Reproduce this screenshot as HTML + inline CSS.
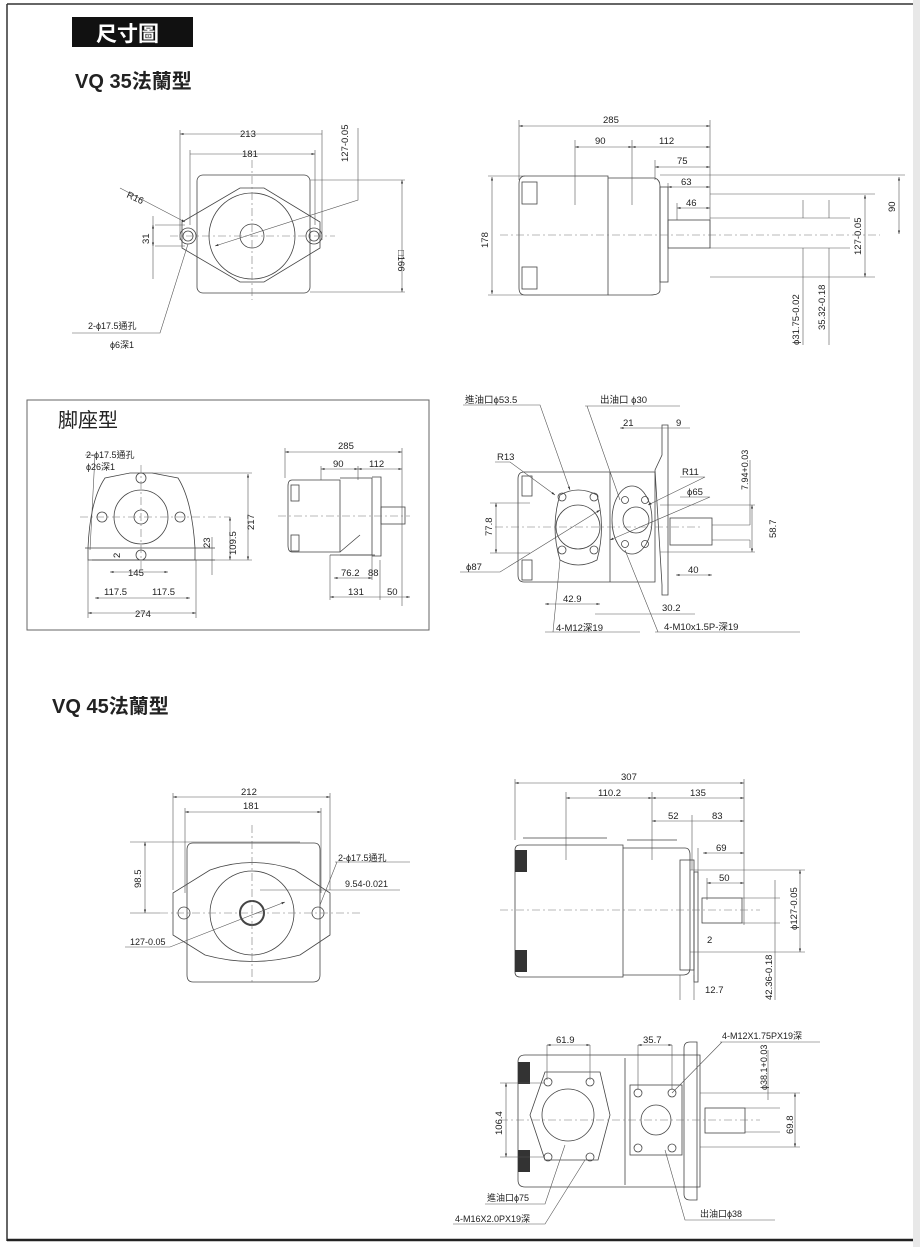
<!DOCTYPE html>
<html><head><meta charset="utf-8">
<style>
html,body{margin:0;padding:0;background:#fff;}
svg{display:block;}
text{font-family:"Liberation Sans","Noto Sans CJK TC",sans-serif;fill:#222;font-size:9.5px;}
.t{font-size:9px}
.l{stroke:#444;stroke-width:0.8;fill:none}
.d{stroke:#555;stroke-width:0.6;fill:none}
.c{stroke:#777;stroke-width:0.6;fill:none;stroke-dasharray:8 3 2 3}
</style></head>
<body>
<svg width="920" height="1247" viewBox="0 0 920 1247" xmlns="http://www.w3.org/2000/svg">
<defs>
<marker id="a" viewBox="0 0 10 10" refX="10" refY="5" markerWidth="6" markerHeight="6" orient="auto-start-reverse"><path d="M0,2 L10,5 L0,8z" fill="#333"/></marker>
</defs>
<rect x="913" y="0" width="7" height="1247" fill="#e8e8e8"/>
<path d="M7,4 H913 M7,4 V1241" stroke="#333" stroke-width="1.5" fill="none"/>
<path d="M7,1240 H913" stroke="#222" stroke-width="2.5"/>
<rect x="72" y="17" width="121" height="30" fill="#111"/>
<text x="96" y="41" style="font-size:21px;font-weight:bold;fill:#fff">尺寸圖</text>
<text x="75" y="88" style="font-size:20px;font-weight:bold">VQ 35法蘭型</text>

<!-- VQ35 front -->
<g>
<rect x="197" y="175" width="113" height="118" rx="6" class="l"/>
<path d="M182,222 L240,188 L264,188 L320,222 L320,248 L264,282 L240,282 L182,248Z" class="l"/>
<circle cx="252" cy="236" r="43" class="l"/>
<circle cx="252" cy="236" r="12" class="l"/>
<circle cx="188" cy="236" r="8" class="l"/><circle cx="188" cy="236" r="5" class="l"/>
<circle cx="314" cy="236" r="8" class="l"/><circle cx="314" cy="236" r="5" class="l"/>
<path d="M170,236 H335 M252,160 V300" class="c"/>
<path d="M180,134 H322 M190,154 H315" class="d" marker-start="url(#a)" marker-end="url(#a)"/>
<path d="M180,130 V240 M322,130 V240 M190,150 V225 M315,150 V225" class="d"/>
<text x="240" y="137">213</text><text x="242" y="157">181</text>
<path d="M310,180 H405 M310,292 H405" class="d"/>
<path d="M402,180 V292" class="d" marker-start="url(#a)" marker-end="url(#a)"/>
<text x="0" y="0" transform="translate(398,250) rotate(90)">□166</text>
<path d="M358,128 V200 L215,246" class="d" marker-end="url(#a)"/>
<text transform="translate(348,162) rotate(-90)">127-0.05</text>
<path d="M120,188 L185,222" class="d" marker-end="url(#a)"/>
<text x="126" y="197" transform="rotate(25 126 197)">R16</text>
<path d="M153,216 V279 M155,225 H185 M155,246 H185" class="d"/>
<path d="M153,225 V246" class="d" marker-start="url(#a)" marker-end="url(#a)"/>
<text transform="translate(149,244) rotate(-90)">31</text>
<path d="M72,333 H160 L188,244" class="d"/>
<text x="88" y="329" class="t">2-ϕ17.5通孔</text>
<text x="110" y="348" class="t">ϕ6深1</text>
</g>

<!-- VQ35 side -->
<g>
<path d="M525,176 H608 V295 H525 Q519,295 519,288 V184 Q519,176 525,176Z" class="l"/>
<path d="M608,178 H655 Q660,180 660,186 V290 Q660,295 650,295 H608" class="l"/>
<rect x="660" y="187" width="8" height="95" class="l"/>
<rect x="668" y="220" width="42" height="28" class="l"/>
<rect x="522" y="182" width="15" height="22" class="l"/><rect x="522" y="267" width="15" height="22" class="l"/>
<path d="M500,235 H880" class="c"/>
<path d="M519,120 V180 M710,120 V248 M575,140 V205 M632,140 V205 M655,160 V180 M668,183 V220 M677,203 V220" class="d"/>
<path d="M519,126 H710" class="d" marker-start="url(#a)" marker-end="url(#a)"/><text x="603" y="123">285</text>
<path d="M575,147 H632" class="d" marker-start="url(#a)" marker-end="url(#a)"/><text x="595" y="144">90</text>
<path d="M632,147 H710" class="d" marker-start="url(#a)" marker-end="url(#a)"/><text x="659" y="144">112</text>
<path d="M655,167 H710" class="d" marker-start="url(#a)" marker-end="url(#a)"/><text x="677" y="164">75</text>
<path d="M668,187 H710" class="d" marker-start="url(#a)" marker-end="url(#a)"/><text x="681" y="185">63</text>
<path d="M677,208 H710" class="d" marker-start="url(#a)" marker-end="url(#a)"/><text x="686" y="206">46</text>
<path d="M488,176 H525 M488,295 H540" class="d"/>
<path d="M492,177 V294" class="d" marker-start="url(#a)" marker-end="url(#a)"/>
<text transform="translate(488,248) rotate(-90)">178</text>
<path d="M660,175 H905 M710,194 H875 M710,277 H875 M710,218 H850 M710,248 H850" class="d"/>
<path d="M899,177 V234" class="d" marker-start="url(#a)" marker-end="url(#a)"/>
<text transform="translate(895,212) rotate(-90)">90</text>
<path d="M865,195 V277" class="d" marker-start="url(#a)" marker-end="url(#a)"/>
<text transform="translate(861,255) rotate(-90)">127-0.05</text>
<path d="M803,200 V218 M803,248 V345 M829,200 V218 M829,248 V345" class="d"/>
<text transform="translate(799,345) rotate(-90)">ϕ31.75-0.02</text>
<text transform="translate(825,330) rotate(-90)">35.32-0.18</text>
</g>

<!-- foot section -->
<rect x="27" y="400" width="402" height="230" class="d" style="stroke:#666;stroke-width:1"/>
<text x="58" y="427" style="font-size:20px">脚座型</text>
<g>
<path d="M88,560 V548 Q90,500 105,478 L130,473 L152,473 L178,478 Q192,500 195,548 V560 Z" class="l"/>
<circle cx="141" cy="517" r="27" class="l"/><circle cx="141" cy="517" r="7" class="l"/>
<circle cx="141" cy="478" r="5" class="l"/><circle cx="102" cy="517" r="5" class="l"/><circle cx="180" cy="517" r="5" class="l"/><circle cx="141" cy="555" r="5" class="l"/>
<path d="M85,548 H215 M92,560 H215" class="l"/>
<path d="M80,517 H230 M141,465 V570" class="c"/>
<path d="M85,455 H95 L90,550" class="d"/>
<text x="86" y="458" class="t">2-ϕ17.5通孔</text><text x="86" y="470" class="t">ϕ26深1</text>
<path d="M152,473 H252 M195,560 H252" class="d"/>
<path d="M248,474 V560" class="d" marker-start="url(#a)" marker-end="url(#a)"/><text transform="translate(254,530) rotate(-90)">217</text>
<path d="M230,517 V560" class="d" marker-start="url(#a)" marker-end="url(#a)"/><text transform="translate(236,555) rotate(-90)">109.5</text>
<path d="M212,537 V575" class="d"/><text transform="translate(210,548) rotate(-90)">23</text>
<text transform="translate(120,558) rotate(-90)">2</text>
<path d="M110,572 H168" class="d" marker-start="url(#a)" marker-end="url(#a)"/><text x="128" y="576">145</text>
<path d="M95,598 H141 M141,598 H190" class="d" marker-start="url(#a)" marker-end="url(#a)"/>
<text x="104" y="595">117.5</text><text x="152" y="595">117.5</text>
<path d="M88,613 H196" class="d" marker-start="url(#a)" marker-end="url(#a)"/><text x="135" y="617">274</text>
<path d="M88,560 V618 M196,560 V618" class="d"/>
</g>
<g>
<path d="M292,480 H340 V552 H292 Q288,552 288,545 V486 Q288,480 292,480Z" class="l"/>
<path d="M340,478 H372 V555 H340" class="l"/>
<path d="M372,477 H381 V556 H372" class="l"/>
<rect x="381" y="507" width="24" height="17" class="l"/>
<rect x="291" y="485" width="8" height="16" class="l"/><rect x="291" y="535" width="8" height="16" class="l"/>
<path d="M340,552 L360,535 M330,555 H375" class="l"/>
<path d="M278,516 H410" class="c"/>
<path d="M285,448 V478 M402,448 V606 M321,466 V480 M358,466 V480 M330,555 V600 M372,555 V580 M380,560 V600" class="d"/>
<path d="M285,452 H402" class="d" marker-start="url(#a)" marker-end="url(#a)"/><text x="338" y="449">285</text>
<path d="M321,469 H358" class="d" marker-start="url(#a)" marker-end="url(#a)"/><text x="333" y="467">90</text>
<path d="M358,469 H402" class="d" marker-start="url(#a)" marker-end="url(#a)"/><text x="369" y="467">112</text>
<path d="M334,578 H372" class="d" marker-start="url(#a)" marker-end="url(#a)"/><text x="341" y="576">76.2</text><text x="368" y="576">88</text>
<path d="M330,597 H380 M380,597 H410" class="d" marker-start="url(#a)" marker-end="url(#a)"/><text x="348" y="595">131</text><text x="387" y="595">50</text>
</g>

<!-- ports view VQ35 -->
<g>
<path d="M524,472 H655 V582 H524 Q518,582 518,575 V479 Q518,472 524,472Z" class="l"/>
<path d="M610,472 V582" class="l"/>
<path d="M655,470 L662,455 V425 H668 V595 H662 V585 Z" class="l"/>
<path d="M560,495 Q578,485 597,495 Q606,527 597,560 Q578,570 560,560 Q550,527 560,495Z" class="l"/>
<circle cx="578" cy="527" r="22" class="l"/>
<circle cx="562" cy="497" r="4" class="l"/><circle cx="594" cy="497" r="4" class="l"/><circle cx="562" cy="550" r="4" class="l"/><circle cx="594" cy="550" r="4" class="l"/>
<ellipse cx="632" cy="520" rx="20" ry="34" class="l"/>
<circle cx="636" cy="520" r="13" class="l"/>
<circle cx="625" cy="500" r="3.5" class="l"/><circle cx="645" cy="500" r="3.5" class="l"/><circle cx="625" cy="544" r="3.5" class="l"/><circle cx="645" cy="544" r="3.5" class="l"/>
<rect x="670" y="518" width="42" height="27" class="l"/>
<rect x="522" y="476" width="10" height="20" class="l"/><rect x="522" y="560" width="10" height="20" class="l"/>
<path d="M495,527 H700" class="c"/>
<path d="M463,405 H540 L570,490" class="d" marker-end="url(#a)"/><text x="465" y="403">進油口ϕ53.5</text>
<path d="M585,406 H680 M587,406 L620,500" class="d"/><text x="600" y="403">出油口 ϕ30</text>
<path d="M620,428 H660 M660,428 H690" class="d" marker-start="url(#a)"/><text x="623" y="426">21</text><text x="676" y="426">9</text>
<path d="M495,462 H510 L555,495" class="d" marker-end="url(#a)"/><text x="497" y="460">R13</text>
<path d="M680,477 H705 L648,505" class="d" marker-end="url(#a)"/><text x="682" y="475">R11</text>
<path d="M680,497 H710 L610,540" class="d" marker-end="url(#a)"/><text x="687" y="495">ϕ65</text>
<path d="M460,572 H500 L600,510" class="d" marker-end="url(#a)"/><text x="466" y="570">ϕ87</text>
<path d="M490,503 H530 M490,553 H530" class="d"/>
<path d="M496,503 V553" class="d" marker-start="url(#a)" marker-end="url(#a)"/><text transform="translate(492,536) rotate(-90)">77.8</text>
<path d="M660,505 H755 M712,525 H750 M712,540 H750 M660,552 H755" class="d"/>
<path d="M752,505 V552" class="d" marker-start="url(#a)" marker-end="url(#a)"/><text transform="translate(776,538) rotate(-90)">58.7</text>
<path d="M750,460 V525 M750,540 V548" class="d"/><text transform="translate(748,490) rotate(-90)" class="t">7.94+0.03</text>
<path d="M676,575 H712" class="d" marker-start="url(#a)" marker-end="url(#a)"/><text x="688" y="573">40</text>
<path d="M545,604 H600" class="d" marker-start="url(#a)" marker-end="url(#a)"/><text x="563" y="602">42.9</text>
<path d="M595,614 H695" class="d"/><text x="662" y="611">30.2</text>
<path d="M545,632 H640 M553,632 L560,560" class="d"/><text x="556" y="631">4-M12深19</text>
<path d="M655,632 H800 M658,632 L625,550" class="d"/><text x="664" y="630">4-M10x1.5P-深19</text>
</g>

<text x="52" y="713" style="font-size:20px;font-weight:bold">VQ 45法蘭型</text>
<!-- VQ45 front -->
<g>
<path d="M193,843 H314 Q320,843 320,850 V975 Q320,982 313,982 H193 Q187,982 187,975 V850 Q187,843 193,843Z" class="l"/>
<path d="M173,893 L210,870 Q252,855 295,870 L330,893 V935 L300,955 Q252,968 205,955 L173,935Z" class="l"/>
<circle cx="252" cy="913" r="42" class="l"/>
<circle cx="252" cy="913" r="12" class="l" style="stroke-width:2"/>
<circle cx="184" cy="913" r="6" class="l"/><circle cx="318" cy="913" r="6" class="l"/>
<path d="M160,913 H360 M252,825 V985" class="c"/>
<path d="M173,793 V890 M330,793 V890 M185,808 V893 M321,808 V893" class="d"/>
<path d="M173,797 H330" class="d" marker-start="url(#a)" marker-end="url(#a)"/><text x="241" y="795">212</text>
<path d="M185,812 H321" class="d" marker-start="url(#a)" marker-end="url(#a)"/><text x="243" y="809">181</text>
<path d="M130,842 H300 M130,913 H160" class="d"/>
<path d="M145,842 V913" class="d" marker-start="url(#a)" marker-end="url(#a)"/><text transform="translate(141,888) rotate(-90)">98.5</text>
<path d="M335,862 H410 M337,862 L320,905" class="d"/><text x="338" y="861" class="t">2-ϕ17.5通孔</text>
<path d="M260,890 H400" class="d"/><text x="345" y="887" class="t">9.54-0.021</text>
<path d="M125,947 H170 L285,902" class="d" marker-end="url(#a)"/><text x="130" y="945" class="t">127-0.05</text>
</g>

<!-- VQ45 side -->
<g>
<path d="M520,845 H623 V977 H520 Q515,977 515,972 V850 Q515,845 520,845Z" class="l"/>
<path d="M623,848 H685 Q690,848 690,855 V968 Q690,975 683,975 H623" class="l"/>
<path d="M523,838 H607 M627,840 H677" class="l"/>
<rect x="680" y="860" width="14" height="110" class="l"/>
<rect x="694" y="872" width="4" height="110" class="l"/>
<rect x="702" y="898" width="40" height="25" class="l"/>
<rect x="515" y="850" width="12" height="22" fill="#333"/><rect x="515" y="950" width="12" height="22" fill="#333"/>
<path d="M500,910 H760" class="c"/>
<path d="M515,779 V840 M744,779 V925 M566,792 V860 M652,792 V860 M692,815 V870 M698,848 V880 M707,878 V900" class="d"/>
<path d="M515,783 H744" class="d" marker-start="url(#a)" marker-end="url(#a)"/><text x="621" y="780">307</text>
<path d="M566,798 H652" class="d" marker-start="url(#a)" marker-end="url(#a)"/><text x="598" y="796">110.2</text>
<path d="M652,798 H744" class="d" marker-start="url(#a)" marker-end="url(#a)"/><text x="690" y="796">135</text>
<path d="M652,821 H744" class="d" marker-start="url(#a)" marker-end="url(#a)"/><text x="668" y="819">52</text><text x="712" y="819">83</text>
<path d="M703,853 H744" class="d" marker-start="url(#a)" marker-end="url(#a)"/><text x="716" y="851">69</text>
<path d="M707,883 H744" class="d" marker-start="url(#a)" marker-end="url(#a)"/><text x="719" y="881">50</text>
<path d="M690,870 H805 M690,952 H805 M742,898 H780 M742,923 H780" class="d"/>
<path d="M800,870 V952" class="d" marker-start="url(#a)" marker-end="url(#a)"/><text transform="translate(797,930) rotate(-90)">ϕ127-0.05</text>
<path d="M775,880 V1000" class="d"/><text transform="translate(772,1000) rotate(-90)">42.36-0.18</text>
<text x="707" y="943">2</text>
<path d="M680,975 V1000 M694,975 V1000" class="d"/><text x="705" y="993">12.7</text>
</g>

<!-- VQ45 bottom ports -->
<g>
<path d="M525,1055 H700 V1187 H525 Q518,1187 518,1180 V1062 Q518,1055 525,1055Z" class="l"/>
<path d="M625,1058 V1185" class="l"/>
<path d="M684,1048 Q684,1042 690,1042 H697 V1200 H690 Q684,1200 684,1194Z" class="l"/>
<path d="M545,1072 L600,1072 L610,1115 L598,1160 L545,1160 L530,1115Z" class="l"/>
<circle cx="568" cy="1115" r="26" class="l"/>
<circle cx="548" cy="1082" r="4" class="l"/><circle cx="590" cy="1082" r="4" class="l"/><circle cx="548" cy="1157" r="4" class="l"/><circle cx="590" cy="1157" r="4" class="l"/>
<rect x="630" y="1085" width="52" height="70" class="l"/>
<circle cx="656" cy="1120" r="15" class="l"/>
<circle cx="638" cy="1093" r="4" class="l"/><circle cx="672" cy="1093" r="4" class="l"/><circle cx="638" cy="1148" r="4" class="l"/><circle cx="672" cy="1148" r="4" class="l"/>
<rect x="705" y="1108" width="40" height="25" class="l"/>
<rect x="518" y="1062" width="12" height="22" fill="#333"/><rect x="518" y="1150" width="12" height="22" fill="#333"/>
<path d="M500,1120 H760" class="c"/>
<path d="M547,1045 V1080 M590,1045 V1080 M638,1045 V1090 M672,1045 V1090" class="d"/>
<path d="M547,1045 H590" class="d" marker-start="url(#a)" marker-end="url(#a)"/><text x="556" y="1043">61.9</text>
<path d="M638,1045 H672" class="d" marker-start="url(#a)" marker-end="url(#a)"/><text x="643" y="1043">35.7</text>
<path d="M500,1083 H545 M500,1157 H545" class="d"/>
<path d="M506,1083 V1157" class="d" marker-start="url(#a)" marker-end="url(#a)"/><text transform="translate(502,1135) rotate(-90)">106.4</text>
<path d="M700,1093 H800 M745,1108 H780 M745,1132 H780 M700,1147 H800" class="d"/>
<path d="M795,1093 V1147" class="d" marker-start="url(#a)" marker-end="url(#a)"/><text transform="translate(793,1134) rotate(-90)">69.8</text>
<path d="M768,1050 V1100" class="d"/><text transform="translate(767,1090) rotate(-90)" class="t">ϕ38.1+0.03</text>
<path d="M720,1042 H820 M722,1042 L672,1093" class="d"/><text x="722" y="1039" class="t">4-M12X1.75PX19深</text>
<path d="M485,1204 H545 L565,1145" class="d"/><text x="487" y="1201" class="t">進油口ϕ75</text>
<path d="M453,1224 H545 L585,1160" class="d"/><text x="455" y="1222" class="t">4-M16X2.0PX19深</text>
<path d="M665,1150 L685,1220 H775" class="d"/><text x="700" y="1217" class="t">出油口ϕ38</text>
</g>
</svg>
</body></html>
